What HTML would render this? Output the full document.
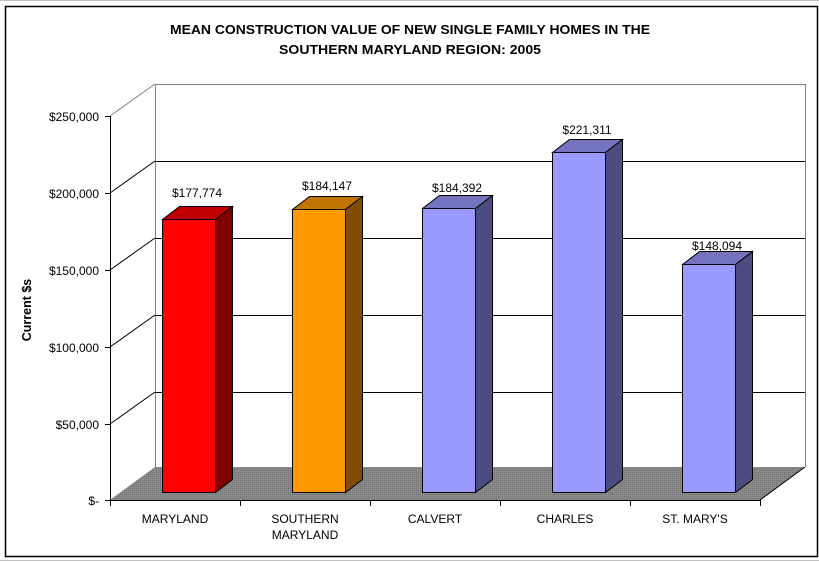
<!DOCTYPE html>
<html><head><style>
html,body{margin:0;padding:0;background:#fff;}
svg{display:block;font-family:"Liberation Sans",Arial,sans-serif;}
</style></head><body>
<svg width="819" height="562" viewBox="0 0 819 562" xmlns="http://www.w3.org/2000/svg">
<defs>
<pattern id="dots" width="2" height="2" patternUnits="userSpaceOnUse">
<rect width="2" height="2" fill="#8a8a8a"/><rect width="1" height="1" fill="#707070"/>
</pattern>
</defs>
<rect x="0" y="0" width="819" height="562" fill="#fff"/>
<line x1="0" y1="0.5" x2="819" y2="0.5" stroke="#c0c0c0"/>
<line x1="0" y1="560.5" x2="819" y2="560.5" stroke="#c0c0c0"/>
<rect x="5.5" y="6.5" width="812" height="550" fill="none" stroke="#000" stroke-width="1.5"/>
<text x="410" y="34" text-anchor="middle" font-size="13" font-weight="bold" textLength="480" lengthAdjust="spacingAndGlyphs">MEAN CONSTRUCTION VALUE OF NEW SINGLE FAMILY HOMES IN THE</text>
<text x="410" y="54" text-anchor="middle" font-size="13" font-weight="bold" textLength="262" lengthAdjust="spacingAndGlyphs">SOUTHERN MARYLAND REGION:  2005</text>
<polyline points="155.5,467 155.5,84.5 805.5,84.5 805.5,467" fill="none" stroke="#808080"/>
<line x1="110" y1="116" x2="155" y2="84" stroke="#808080"/>
<g stroke="#000" stroke-width="1">
<line x1="155" y1="161.5" x2="805" y2="161.5"/>
<line x1="155" y1="238.5" x2="805" y2="238.5"/>
<line x1="155" y1="315.5" x2="805" y2="315.5"/>
<line x1="155" y1="392.5" x2="805" y2="392.5"/>
<line x1="110" y1="193" x2="155" y2="161"/>
<line x1="110" y1="270" x2="155" y2="238"/>
<line x1="110" y1="347" x2="155" y2="315"/>
<line x1="110" y1="424" x2="155" y2="392"/>
</g>
<polygon points="110,500 760,500 805,467 155,467" fill="url(#dots)"/>
<line x1="760" y1="500" x2="805" y2="467" stroke="#000"/>
<line x1="110.5" y1="116" x2="110.5" y2="500" stroke="#000"/>
<line x1="110" y1="500.5" x2="760" y2="500.5" stroke="#000"/>
<g stroke="#000">
<line x1="105" y1="116.5" x2="110" y2="116.5"/>
<line x1="105" y1="193.5" x2="110" y2="193.5"/>
<line x1="105" y1="270.5" x2="110" y2="270.5"/>
<line x1="105" y1="347.5" x2="110" y2="347.5"/>
<line x1="105" y1="424.5" x2="110" y2="424.5"/>
<line x1="105" y1="500.5" x2="110" y2="500.5"/>
<line x1="110.5" y1="500" x2="110.5" y2="506"/>
<line x1="240.5" y1="500" x2="240.5" y2="506"/>
<line x1="370.5" y1="500" x2="370.5" y2="506"/>
<line x1="500.5" y1="500" x2="500.5" y2="506"/>
<line x1="630.5" y1="500" x2="630.5" y2="506"/>
<line x1="760.5" y1="500" x2="760.5" y2="506"/>
</g>
<g font-size="12" text-anchor="end">
<text x="99" y="121">$250,000</text>
<text x="99" y="198">$200,000</text>
<text x="99" y="275">$150,000</text>
<text x="99" y="352">$100,000</text>
<text x="99" y="429">$50,000</text>
<text x="99" y="505">$-</text>
</g>
<text transform="translate(31,310) rotate(-90)" text-anchor="middle" font-size="12.5" font-weight="bold">Current $s</text>
<g font-size="12" text-anchor="middle">
<text x="175" y="523">MARYLAND</text>
<text x="305" y="523">SOUTHERN</text>
<text x="305" y="539">MARYLAND</text>
<text x="435" y="523">CALVERT</text>
<text x="565" y="523">CHARLES</text>
<text x="695" y="523">ST. MARY'S</text>
</g>
<g stroke="#000" stroke-width="1" stroke-linejoin="miter">
<polygon points="162.5,219.5 215.5,219.5 232.5,206.5 179.5,206.5" fill="#C00000"/>
<polygon points="215.5,219.5 232.5,206.5 232.5,479.5 215.5,492.5" fill="#800000"/>
<rect x="162.5" y="219.5" width="53" height="273" fill="#FF0000"/>
<polygon points="292.5,209.5 345.5,209.5 362.5,196.5 309.5,196.5" fill="#C07300"/>
<polygon points="345.5,209.5 362.5,196.5 362.5,479.5 345.5,492.5" fill="#804C00"/>
<rect x="292.5" y="209.5" width="53" height="283" fill="#FF9900"/>
<polygon points="422.5,208.5 475.5,208.5 492.5,195.5 439.5,195.5" fill="#7373C0"/>
<polygon points="475.5,208.5 492.5,195.5 492.5,479.5 475.5,492.5" fill="#4C4C80"/>
<rect x="422.5" y="208.5" width="53" height="284" fill="#9999FF"/>
<polygon points="552.5,152.5 605.5,152.5 622.5,139.5 569.5,139.5" fill="#7373C0"/>
<polygon points="605.5,152.5 622.5,139.5 622.5,479.5 605.5,492.5" fill="#4C4C80"/>
<rect x="552.5" y="152.5" width="53" height="340" fill="#9999FF"/>
<polygon points="682.5,264.5 735.5,264.5 752.5,251.5 699.5,251.5" fill="#7373C0"/>
<polygon points="735.5,264.5 752.5,251.5 752.5,479.5 735.5,492.5" fill="#4C4C80"/>
<rect x="682.5" y="264.5" width="53" height="228" fill="#9999FF"/>
</g>
<g font-size="12" text-anchor="middle">
<text x="197" y="197">$177,774</text>
<text x="327" y="190">$184,147</text>
<text x="457" y="192">$184,392</text>
<text x="587" y="134">$221,311</text>
<text x="717" y="250">$148,094</text>
</g>
</svg>
</body></html>
